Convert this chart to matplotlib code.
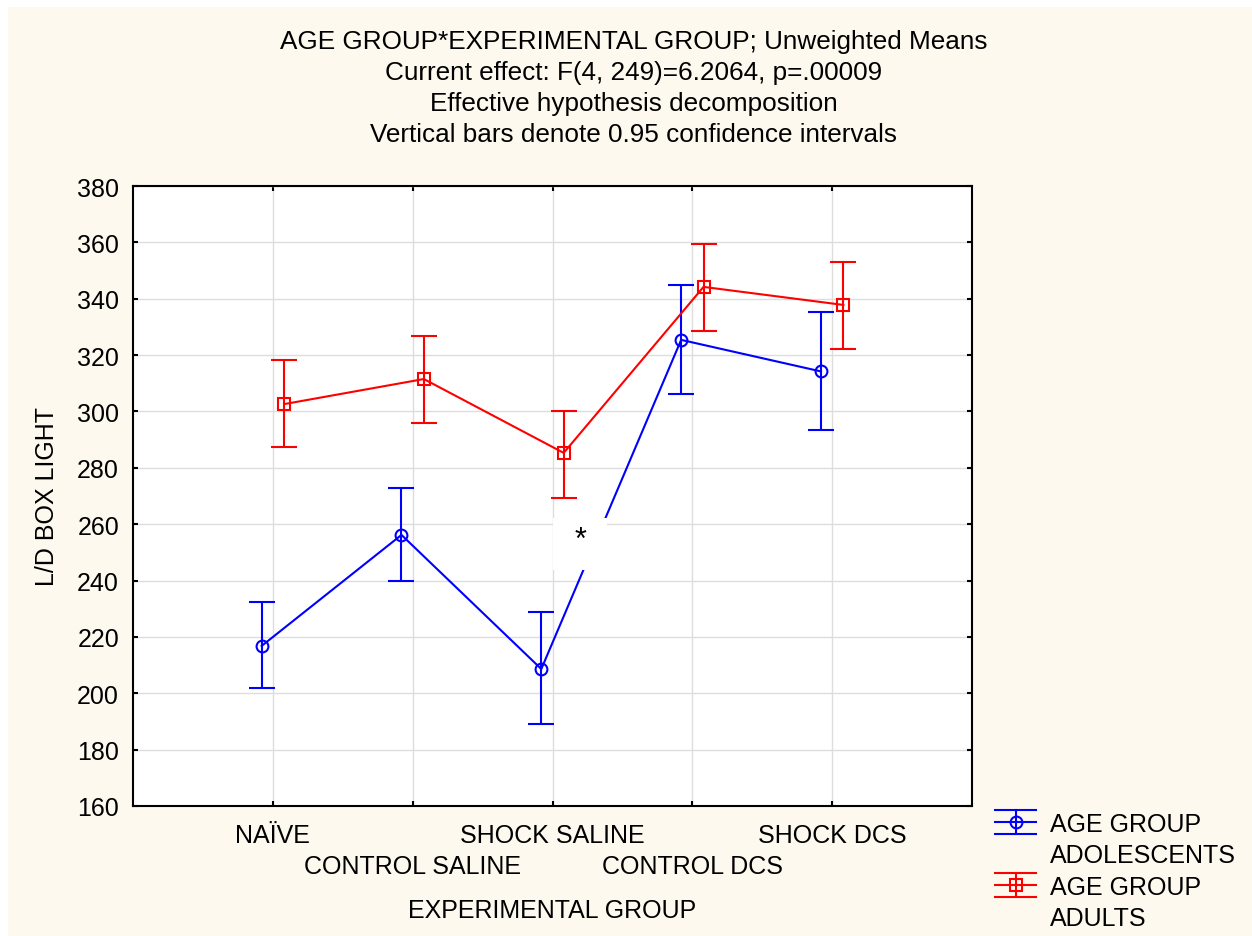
import numpy as np
import matplotlib
matplotlib.use('Agg')
import matplotlib.pyplot as plt
from matplotlib.lines import Line2D
from matplotlib.patches import Rectangle
from matplotlib.legend_handler import HandlerBase

plt.rcParams['font.family'] = ['Liberation Sans', 'DejaVu Sans']

# Data
groups = ['NAÏVE', 'CONTROL SALINE', 'SHOCK SALINE', 'CONTROL DCS', 'SHOCK DCS']
adol_mean = [216.8, 256.2, 208.6, 325.4, 314.2]
adol_lo = [202.0, 239.8, 189.1, 306.2, 293.3]
adol_hi = [232.4, 272.8, 228.8, 344.8, 335.3]
adult_mean = [302.6, 311.5, 285.3, 344.2, 337.8]
adult_lo = [287.4, 295.9, 269.4, 328.5, 322.2]
adult_hi = [318.3, 326.8, 300.3, 359.4, 353.0]
yticks = list(range(160, 381, 20))
series_labels = ['AGE GROUP\nADOLESCENTS', 'AGE GROUP\nADULTS']
title_lines = ['AGE GROUP*EXPERIMENTAL GROUP; Unweighted Means',
               'Current effect: F(4, 249)=6.2064, p=.00009',
               'Effective hypothesis decomposition',
               'Vertical bars denote 0.95 confidence intervals']
star_x, star_y = 3.2, 252.8

FS = 18
BLUE = '#0000FF'
RED = '#FF0000'


class ErrorbarHandler(HandlerBase):
    # legend key: horizontal line, full-width caps, vertical bar and marker
    def create_artists(self, legend, orig_handle, xdescent, ydescent,
                       width, height, fontsize, trans):
        c = orig_handle.get_color()
        x0, x1 = -xdescent, -xdescent + width
        xm = (x0 + x1) / 2
        ym = (height - ydescent) / 2
        dy = 8.6
        arts = [Line2D([x0, x1], [y, y], color=c, lw=1.5) for y in (ym - dy, ym, ym + dy)]
        arts.append(Line2D([xm, xm], [ym - dy, ym + dy], color=c, lw=1.5))
        arts.append(Line2D([xm], [ym], marker=orig_handle.get_marker(), ms=8.5,
                           mfc='none', mec=c, mew=1.5, ls='none'))
        for a in arts:
            a.set_transform(trans)
        return arts


fig = plt.figure(figsize=(12.52, 9.37), dpi=100, facecolor='white')
fig.patches.append(Rectangle((8 / 1252, 0), 1, 929 / 937, transform=fig.transFigure,
                             facecolor='#FEF9EF', edgecolor='none', zorder=-10))

ax = fig.add_axes([133 / 1252, 130 / 937, 839 / 1252, 620 / 937])
ax.set_facecolor('white')

x = np.arange(1, len(groups) + 1)
off = 0.08

am = np.array(adol_mean)
ax.errorbar(x - off, am, yerr=[am - np.array(adol_lo), np.array(adol_hi) - am],
            color=BLUE, lw=1.5, marker='o', ms=8.5, mfc='none', mec=BLUE, mew=1.5,
            capsize=9.5, capthick=1.5, elinewidth=1.5, zorder=3)
dm = np.array(adult_mean)
ax.errorbar(x + off, dm, yerr=[dm - np.array(adult_lo), np.array(adult_hi) - dm],
            color=RED, lw=1.5, marker='s', ms=8.5, mfc='none', mec=RED, mew=1.5,
            capsize=9.5, capthick=1.5, elinewidth=1.5, zorder=3)

# asterisk with white box
ax.add_patch(Rectangle((star_x - 0.2, star_y - 9.2), 0.39, 18.5,
                       facecolor='white', edgecolor='none', zorder=4))
ax.text(star_x, star_y + 1.5, '*', fontsize=22, ha='center', va='center', zorder=5)

ax.set_xlim(0, 6)
ax.set_ylim(160, 380)
ax.set_yticks(yticks)
# alternate category labels on two rows: majors on row 1, minors on row 2
ax.set_xticks(x[0::2])
ax.set_xticklabels(groups[0::2])
ax.set_xticks(x[1::2], minor=True)
ax.set_xticklabels(groups[1::2], minor=True)
ax.grid(True, which='both', axis='x', color='#DDDDDD', lw=1)
ax.grid(True, which='major', axis='y', color='#DDDDDD', lw=1)
ax.set_axisbelow(True)
ax.tick_params(which='both', direction='in', length=3.5, width=1.5, top=True, right=True,
               labelsize=FS, colors='black')
ax.tick_params(axis='x', which='major', pad=12)
ax.tick_params(axis='x', which='minor', pad=34.5)
ax.tick_params(axis='y', pad=10)
for s in ax.spines.values():
    s.set_linewidth(1.5)

ax.set_xlabel('EXPERIMENTAL GROUP', fontsize=FS)
ax.xaxis.set_label_coords(0.5, -0.148)
ax.set_ylabel('L/D BOX LIGHT', fontsize=FS)
ax.yaxis.set_label_coords(-0.088, 0.5)

for i, line in enumerate(title_lines):
    fig.text(634 / 1252, 1 - (42 + 31 * i) / 937, line, fontsize=18.8,
             ha='center', va='center')

h_adol = Line2D([], [], color=BLUE, marker='o')
h_adult = Line2D([], [], color=RED, marker='s')
blank1 = Line2D([], [], ls='none')
blank2 = Line2D([], [], ls='none')
labs = [s.split('\n') for s in series_labels]
fig.legend([h_adol, blank1, h_adult, blank2],
           [labs[0][0], labs[0][1], labs[1][0], labs[1][1]],
           handler_map={h_adol: ErrorbarHandler(), h_adult: ErrorbarHandler()},
           loc='upper left', bbox_to_anchor=(995 / 1252, 1 - 813 / 937),
           frameon=False, fontsize=FS, borderpad=0, borderaxespad=0,
           handlelength=1.65, handletextpad=0.53, labelspacing=0.3)

fig.savefig('out.png', dpi=100, facecolor=fig.get_facecolor())
